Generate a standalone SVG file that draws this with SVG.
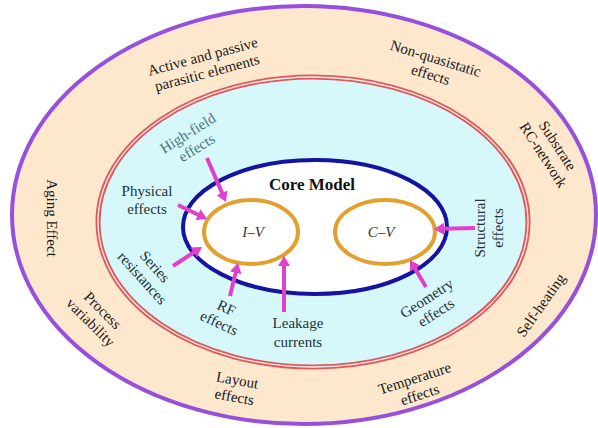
<svg xmlns="http://www.w3.org/2000/svg" width="598" height="428" viewBox="0 0 598 428">
<style>
text{font-family:"Liberation Serif","Times New Roman",serif;font-size:15px;fill:#1a1a1a;text-anchor:middle}
.in{fill:#233238}
.hf{fill:#4b7178}
.arr{stroke:#e040cc;stroke-width:4;fill:none;marker-end:url(#ah)}
</style>
<defs>
<marker id="ah" markerUnits="userSpaceOnUse" markerWidth="10" markerHeight="12" refX="2" refY="6" orient="auto">
<path d="M0,0 L10,6 L0,12 z" fill="#e040cc"/>
</marker>
</defs>
<rect width="598" height="428" fill="#ffffff"/>
<g id="outer-ring">
<ellipse cx="304" cy="215" rx="292" ry="209" fill="#fde8cd" stroke="#9650dc" stroke-width="4"/>
</g>
<g id="middle-ring">
<ellipse cx="313" cy="222" rx="215" ry="145" fill="#d6f8fb" stroke="#e0585a" stroke-width="5"/>
<ellipse cx="313" cy="222" rx="215" ry="145" fill="none" stroke="#fdf0ee" stroke-width="1.3"/>
</g>
<g id="core-model">
<ellipse cx="315" cy="227" rx="132" ry="67" fill="#ffffff" stroke="#1414a0" stroke-width="4"/>
<text x="312" y="190" style="font-weight:bold;font-size:17px;fill:#111">Core Model</text>
</g>
<g id="iv">
<ellipse cx="251" cy="232" rx="47" ry="32" fill="#ffffff" stroke="#e2a12f" stroke-width="4"/>
<text x="253" y="237" style="font-style:italic;fill:#333">I–V</text>
</g>
<g id="cv">
<ellipse cx="385" cy="232" rx="50" ry="32" fill="#ffffff" stroke="#e2a12f" stroke-width="4"/>
<text x="381" y="237" style="font-style:italic;fill:#333">C–V</text>
</g>
<g id="connectors">
<path class="arr" d="M207,158 L222.8,194.6"/>
<path class="arr" d="M178,205 L199.8,215.5"/>
<path class="arr" d="M173,266 L195.3,251.4"/>
<path class="arr" d="M230,296 L236.1,270.8"/>
<path class="arr" d="M284,312 L284,264"/>
<path class="arr" d="M475,228 L442,228.8"/>
<path class="arr" d="M426,287 L414.1,266.9"/>
</g>
<g id="label-high-field" transform="translate(192,140) rotate(-32)">
<text class="hf" x="0" y="-3">High-field</text>
<text class="hf" x="0" y="14">effects</text>
</g>
<g id="label-physical">
<text class="in" x="147" y="196">Physical</text>
<text class="in" x="147" y="214">effects</text>
</g>
<g id="label-series" transform="translate(149,272) rotate(48)">
<text class="in" x="0" y="-3">Series</text>
<text class="in" x="0" y="14">resistances</text>
</g>
<g id="label-rf" transform="translate(223,315) rotate(25)">
<text class="in" x="0" y="-3">RF</text>
<text class="in" x="0" y="14">effects</text>
</g>
<g id="label-leakage">
<text class="in" x="298" y="328">Leakage</text>
<text class="in" x="298" y="347">currents</text>
</g>
<g id="label-geometry" transform="translate(431,305) rotate(-33)">
<text class="in" x="0" y="-3">Geometry</text>
<text class="in" x="0" y="14">effects</text>
</g>
<g id="label-structural" transform="translate(481,228) rotate(-90)">
<text class="in" x="0" y="4">Structural</text>
<text class="in" x="0" y="22">effects</text>
</g>
<g id="label-active" transform="translate(205,65) rotate(-15)">
<text x="0" y="-4">Active and passive</text>
<text x="0" y="13">parasitic elements</text>
</g>
<g id="label-nqs" transform="translate(433,67) rotate(17)">
<text x="0" y="-4">Non-quasistatic</text>
<text x="0" y="13">effects</text>
</g>
<g id="label-substrate" transform="translate(551,150) rotate(57)">
<text x="0" y="-3">Substrate</text>
<text x="0" y="14">RC-network</text>
</g>
<g id="label-aging" transform="translate(47,218) rotate(90)">
<text x="0" y="0">Aging Effect</text>
</g>
<g id="label-process" transform="translate(97,316) rotate(45)">
<text x="0" y="-3">Process</text>
<text x="0" y="14">variability</text>
</g>
<g id="label-layout" transform="translate(236,388) rotate(10)">
<text x="0" y="-3">Layout</text>
<text x="0" y="14">effects</text>
</g>
<g id="label-temperature" transform="translate(417,386) rotate(-18)">
<text x="0" y="-3">Temperature</text>
<text x="0" y="14">effects</text>
</g>
<g id="label-self-heating" transform="translate(545,308) rotate(-55)">
<text x="0" y="0">Self-heating</text>
</g>
</svg>
